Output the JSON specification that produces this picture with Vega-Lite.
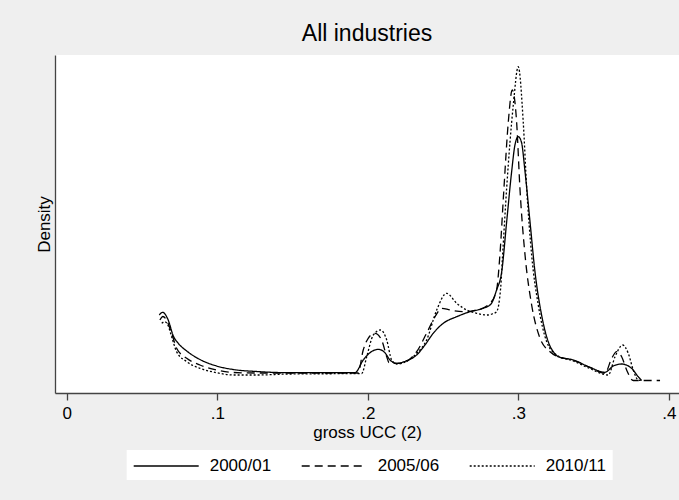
{
  "$schema": "https://vega.github.io/schema/vega-lite/v6.json",
  "width": 624,
  "height": 338,
  "autosize": {"type": "none"},
  "padding": {"left": 55, "top": 55, "right": 0, "bottom": 107},
  "background": "#efefef",
  "title": {"text": "All industries"},
  "data": {
    "values": [
      {"period": "2000/01", "ucc": 0.0615, "density": 6.55},
      {"period": "2000/01", "ucc": 0.0637, "density": 6.82},
      {"period": "2000/01", "ucc": 0.0674, "density": 6.05},
      {"period": "2000/01", "ucc": 0.0708, "density": 4.45},
      {"period": "2000/01", "ucc": 0.0741, "density": 3.72},
      {"period": "2000/01", "ucc": 0.0797, "density": 2.95},
      {"period": "2000/01", "ucc": 0.0885, "density": 2.1},
      {"period": "2000/01", "ucc": 0.0996, "density": 1.45},
      {"period": "2000/01", "ucc": 0.1106, "density": 1.1},
      {"period": "2000/01", "ucc": 0.1262, "density": 0.9},
      {"period": "2000/01", "ucc": 0.1483, "density": 0.78},
      {"period": "2000/01", "ucc": 0.1915, "density": 0.78},
      {"period": "2000/01", "ucc": 0.197, "density": 2.05},
      {"period": "2000/01", "ucc": 0.2015, "density": 2.78},
      {"period": "2000/01", "ucc": 0.207, "density": 3.12},
      {"period": "2000/01", "ucc": 0.2114, "density": 2.78},
      {"period": "2000/01", "ucc": 0.2148, "density": 2.05},
      {"period": "2000/01", "ucc": 0.2192, "density": 1.72},
      {"period": "2000/01", "ucc": 0.2258, "density": 1.98},
      {"period": "2000/01", "ucc": 0.2325, "density": 2.55},
      {"period": "2000/01", "ucc": 0.238, "density": 3.55},
      {"period": "2000/01", "ucc": 0.2435, "density": 4.72},
      {"period": "2000/01", "ucc": 0.2502, "density": 5.72},
      {"period": "2000/01", "ucc": 0.2591, "density": 6.38},
      {"period": "2000/01", "ucc": 0.2679, "density": 6.88},
      {"period": "2000/01", "ucc": 0.2767, "density": 7.22},
      {"period": "2000/01", "ucc": 0.2819, "density": 7.65},
      {"period": "2000/01", "ucc": 0.2856, "density": 9.05},
      {"period": "2000/01", "ucc": 0.289, "density": 10.88},
      {"period": "2000/01", "ucc": 0.2923, "density": 15.88},
      {"period": "2000/01", "ucc": 0.2956, "density": 20.88},
      {"period": "2000/01", "ucc": 0.2978, "density": 23.55},
      {"period": "2000/01", "ucc": 0.3, "density": 24.38},
      {"period": "2000/01", "ucc": 0.3021, "density": 23.85},
      {"period": "2000/01", "ucc": 0.3045, "density": 20.88},
      {"period": "2000/01", "ucc": 0.3078, "density": 15.88},
      {"period": "2000/01", "ucc": 0.3111, "density": 10.88},
      {"period": "2000/01", "ucc": 0.3155, "density": 6.55},
      {"period": "2000/01", "ucc": 0.3199, "density": 3.88},
      {"period": "2000/01", "ucc": 0.3233, "density": 2.88},
      {"period": "2000/01", "ucc": 0.3266, "density": 2.38},
      {"period": "2000/01", "ucc": 0.3365, "density": 2.05},
      {"period": "2000/01", "ucc": 0.3476, "density": 1.32},
      {"period": "2000/01", "ucc": 0.3576, "density": 0.82},
      {"period": "2000/01", "ucc": 0.3631, "density": 1.45},
      {"period": "2000/01", "ucc": 0.3687, "density": 1.65},
      {"period": "2000/01", "ucc": 0.3753, "density": 1.22},
      {"period": "2000/01", "ucc": 0.3797, "density": 0.38},
      {"period": "2000/01", "ucc": 0.382, "density": 0},
      {"period": "2005/06", "ucc": 0.0619, "density": 6.05},
      {"period": "2005/06", "ucc": 0.0639, "density": 6.4},
      {"period": "2005/06", "ucc": 0.0659, "density": 6.15},
      {"period": "2005/06", "ucc": 0.0697, "density": 4.72},
      {"period": "2005/06", "ucc": 0.073, "density": 3.22},
      {"period": "2005/06", "ucc": 0.0797, "density": 2.22},
      {"period": "2005/06", "ucc": 0.0885, "density": 1.55},
      {"period": "2005/06", "ucc": 0.0996, "density": 1.05},
      {"period": "2005/06", "ucc": 0.1106, "density": 0.8},
      {"period": "2005/06", "ucc": 0.1262, "density": 0.75},
      {"period": "2005/06", "ucc": 0.1483, "density": 0.75},
      {"period": "2005/06", "ucc": 0.1935, "density": 0.75},
      {"period": "2005/06", "ucc": 0.197, "density": 3.05},
      {"period": "2005/06", "ucc": 0.2003, "density": 4.22},
      {"period": "2005/06", "ucc": 0.2048, "density": 4.72},
      {"period": "2005/06", "ucc": 0.2092, "density": 4.05},
      {"period": "2005/06", "ucc": 0.2126, "density": 2.38},
      {"period": "2005/06", "ucc": 0.2141, "density": 1.78},
      {"period": "2005/06", "ucc": 0.2161, "density": 1.72},
      {"period": "2005/06", "ucc": 0.2214, "density": 1.72},
      {"period": "2005/06", "ucc": 0.2325, "density": 2.88},
      {"period": "2005/06", "ucc": 0.2391, "density": 4.72},
      {"period": "2005/06", "ucc": 0.2447, "density": 6.38},
      {"period": "2005/06", "ucc": 0.2491, "density": 7.22},
      {"period": "2005/06", "ucc": 0.2546, "density": 7.05},
      {"period": "2005/06", "ucc": 0.2635, "density": 6.88},
      {"period": "2005/06", "ucc": 0.2724, "density": 7.05},
      {"period": "2005/06", "ucc": 0.2812, "density": 7.72},
      {"period": "2005/06", "ucc": 0.2856, "density": 9.05},
      {"period": "2005/06", "ucc": 0.2878, "density": 12.55},
      {"period": "2005/06", "ucc": 0.2905, "density": 19.25},
      {"period": "2005/06", "ucc": 0.2934, "density": 25.88},
      {"period": "2005/06", "ucc": 0.296, "density": 29.05},
      {"period": "2005/06", "ucc": 0.2989, "density": 25.88},
      {"period": "2005/06", "ucc": 0.3011, "density": 19.25},
      {"period": "2005/06", "ucc": 0.3045, "density": 12.55},
      {"period": "2005/06", "ucc": 0.3089, "density": 7.55},
      {"period": "2005/06", "ucc": 0.3144, "density": 4.25},
      {"period": "2005/06", "ucc": 0.3211, "density": 2.88},
      {"period": "2005/06", "ucc": 0.3264, "density": 2.38},
      {"period": "2005/06", "ucc": 0.3365, "density": 2.05},
      {"period": "2005/06", "ucc": 0.3476, "density": 1.32},
      {"period": "2005/06", "ucc": 0.3576, "density": 0.72},
      {"period": "2005/06", "ucc": 0.3621, "density": 2.22},
      {"period": "2005/06", "ucc": 0.3654, "density": 2.88},
      {"period": "2005/06", "ucc": 0.3687, "density": 2.38},
      {"period": "2005/06", "ucc": 0.372, "density": 1.05},
      {"period": "2005/06", "ucc": 0.3764, "density": 0},
      {"period": "2005/06", "ucc": 0.3942, "density": 0},
      {"period": "2010/11", "ucc": 0.0631, "density": 5.72},
      {"period": "2010/11", "ucc": 0.0652, "density": 5.88},
      {"period": "2010/11", "ucc": 0.0672, "density": 5.55},
      {"period": "2010/11", "ucc": 0.0697, "density": 4.38},
      {"period": "2010/11", "ucc": 0.073, "density": 2.88},
      {"period": "2010/11", "ucc": 0.0797, "density": 1.88},
      {"period": "2010/11", "ucc": 0.0885, "density": 1.22},
      {"period": "2010/11", "ucc": 0.0996, "density": 0.78},
      {"period": "2010/11", "ucc": 0.1106, "density": 0.55},
      {"period": "2010/11", "ucc": 0.1262, "density": 0.55},
      {"period": "2010/11", "ucc": 0.1483, "density": 0.65},
      {"period": "2010/11", "ucc": 0.196, "density": 0.7},
      {"period": "2010/11", "ucc": 0.1993, "density": 2.38},
      {"period": "2010/11", "ucc": 0.2037, "density": 4.55},
      {"period": "2010/11", "ucc": 0.2086, "density": 5.05},
      {"period": "2010/11", "ucc": 0.2126, "density": 4.05},
      {"period": "2010/11", "ucc": 0.2159, "density": 2.05},
      {"period": "2010/11", "ucc": 0.2192, "density": 1.65},
      {"period": "2010/11", "ucc": 0.2325, "density": 2.72},
      {"period": "2010/11", "ucc": 0.2391, "density": 4.05},
      {"period": "2010/11", "ucc": 0.2458, "density": 7.05},
      {"period": "2010/11", "ucc": 0.2524, "density": 8.72},
      {"period": "2010/11", "ucc": 0.2591, "density": 7.72},
      {"period": "2010/11", "ucc": 0.2657, "density": 7.05},
      {"period": "2010/11", "ucc": 0.2724, "density": 6.72},
      {"period": "2010/11", "ucc": 0.279, "density": 6.55},
      {"period": "2010/11", "ucc": 0.2825, "density": 6.65},
      {"period": "2010/11", "ucc": 0.2856, "density": 6.88},
      {"period": "2010/11", "ucc": 0.2883, "density": 9.25},
      {"period": "2010/11", "ucc": 0.2896, "density": 12.55},
      {"period": "2010/11", "ucc": 0.2923, "density": 19.25},
      {"period": "2010/11", "ucc": 0.2967, "density": 27.55},
      {"period": "2010/11", "ucc": 0.3, "density": 31.38},
      {"period": "2010/11", "ucc": 0.3033, "density": 25.88},
      {"period": "2010/11", "ucc": 0.3056, "density": 19.25},
      {"period": "2010/11", "ucc": 0.3089, "density": 12.55},
      {"period": "2010/11", "ucc": 0.3133, "density": 7.55},
      {"period": "2010/11", "ucc": 0.3189, "density": 3.88},
      {"period": "2010/11", "ucc": 0.3255, "density": 2.55},
      {"period": "2010/11", "ucc": 0.3365, "density": 1.95},
      {"period": "2010/11", "ucc": 0.3476, "density": 1.2},
      {"period": "2010/11", "ucc": 0.3598, "density": 0.55},
      {"period": "2010/11", "ucc": 0.3643, "density": 2.38},
      {"period": "2010/11", "ucc": 0.3694, "density": 3.55},
      {"period": "2010/11", "ucc": 0.3731, "density": 2.72},
      {"period": "2010/11", "ucc": 0.3764, "density": 1.05},
      {"period": "2010/11", "ucc": 0.3797, "density": 0.05},
      {"period": "2010/11", "ucc": 0.382, "density": 0}
    ]
  },
  "mark": {"type": "line", "interpolate": "monotone", "strokeWidth": 1.3, "color": "black"},
  "encoding": {
    "x": {
      "field": "ucc",
      "type": "quantitative",
      "title": "gross UCC (2)",
      "scale": {"domain": [-0.0078, 0.4068], "nice": false, "zero": false},
      "axis": {
        "values": [0, 0.1, 0.2, 0.3, 0.4],
        "labelExpr": "datum.value == 0 ? '0' : replace(format(datum.value, '.1f'), '0.', '.')",
        "tickSize": 7,
        "labelPadding": 5,
        "titlePadding": 3,
        "labelFlush": false,
        "labelOverlap": false
      }
    },
    "y": {
      "field": "density",
      "type": "quantitative",
      "title": "Density",
      "scale": {"domain": [-1.25, 32.55], "nice": false, "zero": false},
      "axis": {"labels": false, "ticks": false, "titlePadding": 2}
    },
    "strokeDash": {
      "field": "period",
      "type": "nominal",
      "scale": {
        "domain": ["2000/01", "2005/06", "2010/11"],
        "range": [[1, 0], [8, 5], [2, 2]]
      },
      "legend": {
        "title": null,
        "orient": "none",
        "direction": "horizontal",
        "legendX": 71.7,
        "legendY": 395,
        "fillColor": "white",
        "padding": 6,
        "columnPadding": 27,
        "labelOffset": 57,
        "symbolType": "M-1,0H6.222",
        "symbolSize": 324,
        "symbolStrokeWidth": 1.3,
        "symbolStrokeColor": "black",
        "symbolFillColor": "transparent"
      }
    }
  },
  "config": {
    "font": "Liberation Sans",
    "view": {"fill": "white", "stroke": null},
    "title": {"fontSize": 23, "fontWeight": "normal", "color": "black", "baseline": "alphabetic", "offset": 9, "anchor": "middle"},
    "axis": {
      "grid": false,
      "domainColor": "#444444",
      "domainWidth": 1.3,
      "tickColor": "#444444",
      "tickWidth": 1.3,
      "labelFontSize": 17,
      "labelColor": "black",
      "titleFontSize": 17,
      "titleFontWeight": "normal",
      "titleColor": "black"
    },
    "legend": {"labelFontSize": 17, "labelColor": "black"}
  }
}
